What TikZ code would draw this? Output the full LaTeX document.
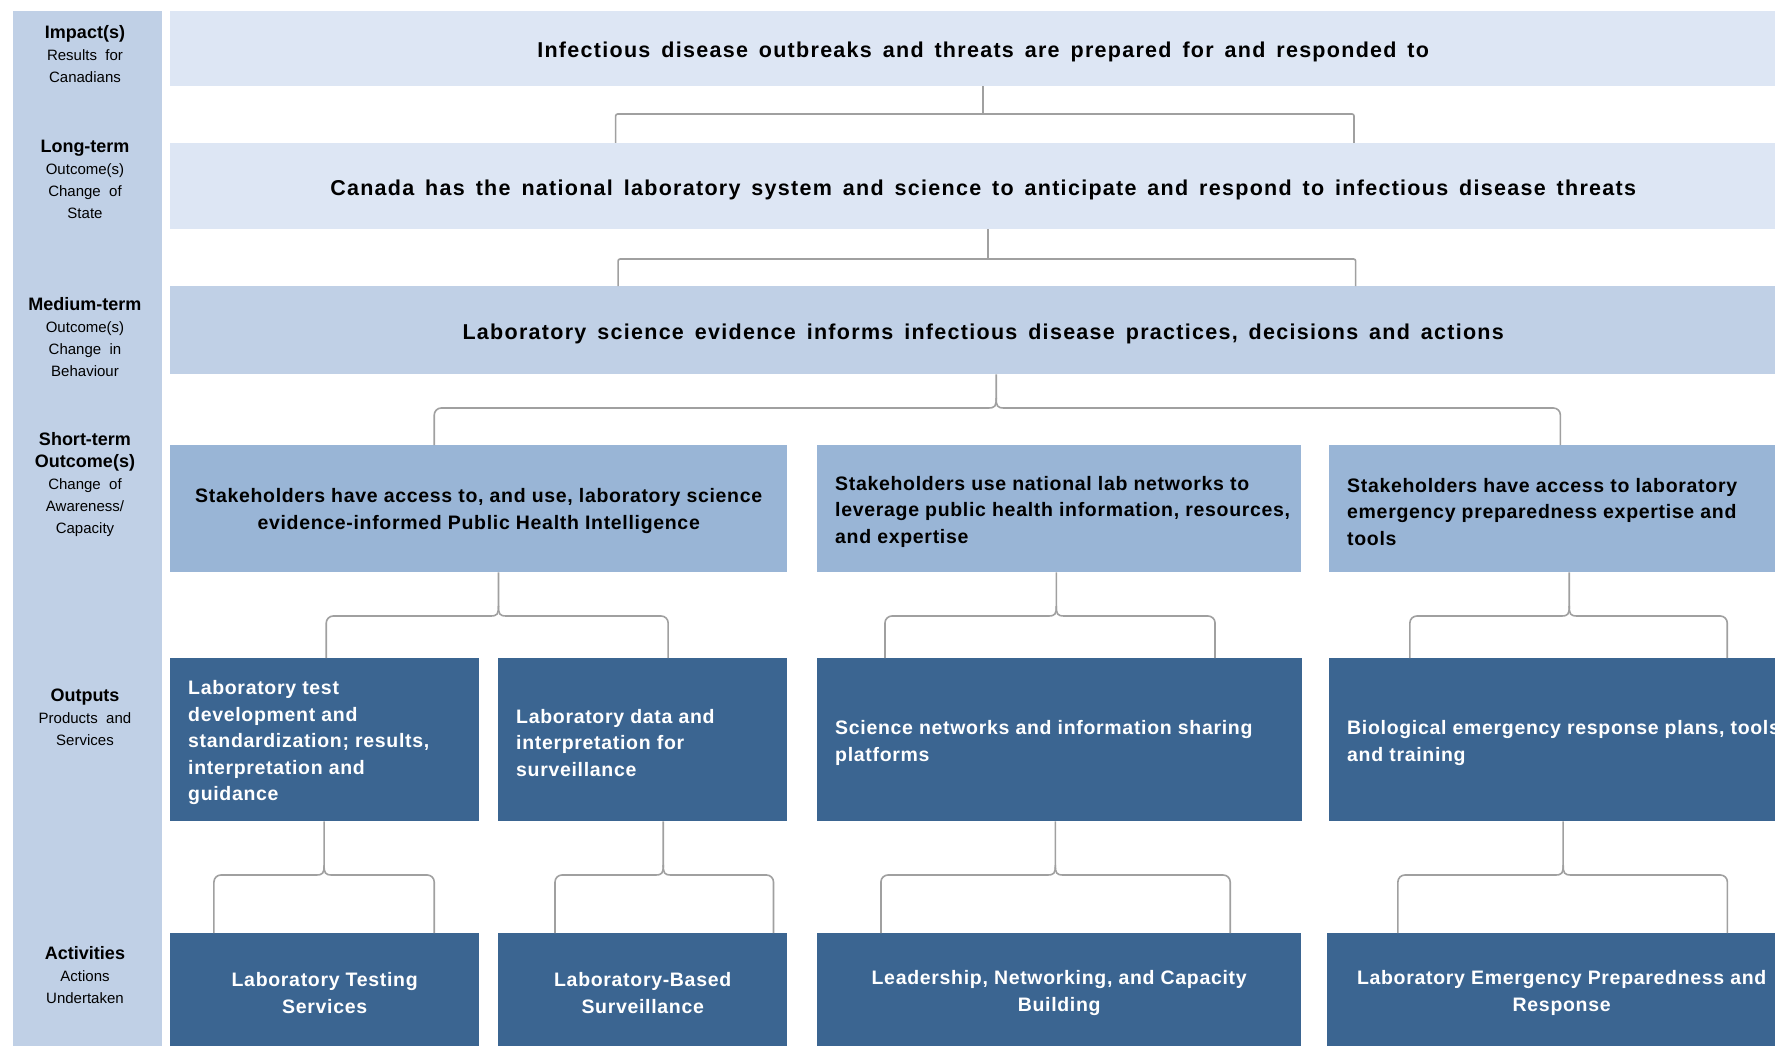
\documentclass[tikz,border=0pt]{standalone}
\usepackage{fontspec}
\setmainfont{Liberation Sans}
\newfontfamily\wideface[LetterSpace=6,WordSpace=1.5]{Liberation Sans}
\newfontfamily\midface[LetterSpace=3.5]{Liberation Sans}
\usetikzlibrary{calc}

\definecolor{bandblue}{RGB}{192,208,230}
\definecolor{paleblue}{RGB}{221,230,244}
\definecolor{midblue}{RGB}{192,208,230}
\definecolor{skyblue}{RGB}{153,181,214}
\definecolor{navyblue}{RGB}{59,101,145}
\definecolor{linkgray}{RGB}{160,160,160}

\newcommand\ttl[1]{{\bfseries\fontsize{18}{22}\selectfont #1}}

% straight T-shaped fork: stem, bar height, left foot, right foot
\newcommand\plainfork[4]{%
  \coordinate (bm) at (#1 |- 0,#2);
  \draw[link] (#1) -- (bm);
  \draw[link,rounded corners=2pt] (#3) |- (bm) -| (#4);
}
% curly-brace fork with a cusp under the stem
\newcommand\curlyfork[4]{%
  \coordinate (bm) at (#1 |- 0,#2);
  \draw[link] (#1) -- ([yshift=10pt]bm)
     .. controls ([yshift=2pt]bm) and ([xshift=-1pt]bm) .. ([xshift=-8pt]bm)
     [rounded corners=7pt] -| (#3);
  \draw[link] ([yshift=10pt]bm)
     .. controls ([yshift=2pt]bm) and ([xshift=1pt]bm) .. ([xshift=8pt]bm)
     [rounded corners=7pt] -| (#4);
}

\begin{document}
\begin{tikzpicture}[x=1pt,y=-1pt,
  box/.style={rectangle,anchor=north west,inner sep=0pt,draw=none},
  tierpale/.style={box,fill=paleblue,align=center,text height=18pt,text depth=0pt,
     font=\wideface\bfseries\fontsize{21.5}{26}\selectfont},
  tiermid/.style={box,fill=midblue,align=center,text height=18pt,text depth=0pt,
     font=\wideface\bfseries\fontsize{21.5}{26}\selectfont},
  shortbox/.style={box,fill=skyblue},
  darkbox/.style={box,fill=navyblue,align=center,text=white,
     font=\midface\bfseries\fontsize{19.5}{26.6}\selectfont},
  boxtext/.style={inner sep=0pt,yshift=-3pt,
     font=\midface\bfseries\fontsize{19.5}{26.6}\selectfont},
  lefttext/.style={boxtext,anchor=west,align=left},
  lbl/.style={align=center,inner sep=0pt,font=\fontsize{15}{22}\selectfont},
  link/.style={draw=linkgray,line width=1.6pt}]

\clip (0,0) rectangle (1775,1046);
\fill[white] (0,0) rectangle (1775,1046);

% level band on the left
\node[box,fill=bandblue,minimum width=149pt,minimum height=1040pt] (band) at (13,11) {};
\node[lbl] (limp) at (85,54) {\ttl{Impact(s)}\\Results\ \ for\\Canadians};
\node[lbl] (llong) at (85,179) {\ttl{Long-term}\\Outcome(s)\\Change\ \ of\\State};
\node[lbl] (lmed) at (85,337) {\ttl{Medium-term}\\Outcome(s)\\Change\ \ in\\Behaviour};
\node[lbl] (lshort) at (85,485) {\ttl{Short-term}\\\ttl{Outcome(s)}\\Change\ \ of\\Awareness/\\Capacity};
\node[lbl] (lout) at (85,717) {\ttl{Outputs}\\Products\ \ and\\Services};
\node[lbl] (lact) at (85,975) {\ttl{Activities}\\Actions\\Undertaken};

% outcome tiers
\node[tierpale,minimum width=1626pt,minimum height=75pt] (imp) at (170,11)
  {Infectious disease outbreaks and threats are prepared for and responded to};
\node[tierpale,minimum width=1626pt,minimum height=86pt] (lt) at (170,143)
  {Canada has the national laboratory system and science to anticipate and respond to infectious disease threats};
\node[tiermid,minimum width=1626pt,minimum height=88pt] (mt) at (170,286)
  {Laboratory science evidence informs infectious disease practices, decisions and actions};

% short-term outcomes
\node[shortbox,minimum width=617pt,minimum height=127pt] (s1) at (170,445) {};
\node[shortbox,minimum width=484pt,minimum height=127pt] (s2) at (817,445) {};
\node[shortbox,minimum width=467pt,minimum height=127pt] (s3) at (1329,445) {};
\node[boxtext,align=center,yshift=1pt] (s1t) at (s1.center)
  {Stakeholders have access to, and use, laboratory science\\evidence-informed Public Health Intelligence};
\node[lefttext] (s2t) at ([xshift=18pt]s2.west)
  {Stakeholders use national lab networks to\\leverage public health information, resources,\\and expertise};
\node[lefttext] (s3t) at ([xshift=18pt]s3.west)
  {Stakeholders have access to laboratory\\emergency preparedness expertise and\\tools};

% outputs
\node[darkbox,minimum width=309pt,minimum height=163pt] (o1) at (170,658) {};
\node[darkbox,minimum width=289pt,minimum height=163pt] (o2) at (498,658) {};
\node[darkbox,minimum width=485pt,minimum height=163pt] (o3) at (817,658) {};
\node[darkbox,minimum width=467pt,minimum height=163pt] (o4) at (1329,658) {};
\node[lefttext,text=white] (o1t) at ([xshift=18pt]o1.west)
  {Laboratory test\\development and\\standardization; results,\\interpretation and\\guidance};
\node[lefttext,text=white] (o2t) at ([xshift=18pt]o2.west)
  {Laboratory data and\\interpretation for\\surveillance};
\node[lefttext,text=white] (o3t) at ([xshift=18pt]o3.west)
  {Science networks and information sharing\\platforms};
\node[lefttext,text=white] (o4t) at ([xshift=18pt]o4.west)
  {Biological emergency response plans, tools\\and training};

% activities
\node[darkbox,minimum width=309pt,minimum height=120pt] (a1) at (170,933)
  {Laboratory Testing\\Services};
\node[darkbox,minimum width=289pt,minimum height=120pt] (a2) at (498,933)
  {Laboratory-Based\\Surveillance};
\node[darkbox,minimum width=484pt,minimum height=120pt] (a3) at (817,933)
  {Leadership, Networking, and Capacity\\Building};
\node[darkbox,minimum width=469pt,minimum height=120pt] (a4) at (1327,933)
  {Laboratory Emergency Preparedness and\\Response};

% impact <- long-term
\coordinate (f1l) at ($(lt.north west)!0.274!(lt.north east)$);
\coordinate (f1r) at ($(lt.north west)!0.728!(lt.north east)$);
\plainfork{imp.south}{114}{f1l}{f1r}

% long-term <- medium-term
\coordinate (f2t) at ($(lt.south)+(5,0)$);
\coordinate (f2l) at ($(mt.north west)!0.2755!(mt.north east)$);
\coordinate (f2r) at ($(mt.north west)!0.729!(mt.north east)$);
\plainfork{f2t}{259}{f2l}{f2r}

% medium-term <- short-term
\coordinate (f3t) at ($(mt.south)+(13,0)$);
\coordinate (f3l) at ($(s1.north west)!0.428!(s1.north east)$);
\coordinate (f3r) at ($(s3.north west)!0.495!(s3.north east)$);
\curlyfork{f3t}{408}{f3l}{f3r}

% short-term <- outputs
\coordinate (f4t) at ($(s1.south west)!0.532!(s1.south east)$);
\coordinate (f4l) at ($(o1.north west)!0.505!(o1.north east)$);
\coordinate (f4r) at ($(o2.north west)!0.588!(o2.north east)$);
\curlyfork{f4t}{616}{f4l}{f4r}

\coordinate (f5t) at ($(s2.south west)!0.494!(s2.south east)$);
\coordinate (f5l) at ($(o3.north west)!0.14!(o3.north east)$);
\coordinate (f5r) at ($(o3.north west)!0.82!(o3.north east)$);
\curlyfork{f5t}{616}{f5l}{f5r}

\coordinate (f6t) at ($(s3.south west)!0.514!(s3.south east)$);
\coordinate (f6l) at ($(o4.north west)!0.173!(o4.north east)$);
\coordinate (f6r) at ($(o4.north west)!0.852!(o4.north east)$);
\curlyfork{f6t}{616}{f6l}{f6r}

% outputs <- activities
\coordinate (f7t) at ($(o1.south west)!0.498!(o1.south east)$);
\coordinate (f7l) at ($(a1.north west)!0.142!(a1.north east)$);
\coordinate (f7r) at ($(a1.north west)!0.854!(a1.north east)$);
\curlyfork{f7t}{875}{f7l}{f7r}

\coordinate (f8t) at ($(o2.south west)!0.571!(o2.south east)$);
\coordinate (f8l) at ($(a2.north west)!0.197!(a2.north east)$);
\coordinate (f8r) at ($(a2.north west)!0.952!(a2.north east)$);
\curlyfork{f8t}{875}{f8l}{f8r}

\coordinate (f9t) at ($(o3.south west)!0.491!(o3.south east)$);
\coordinate (f9l) at ($(a3.north west)!0.132!(a3.north east)$);
\coordinate (f9r) at ($(a3.north west)!0.853!(a3.north east)$);
\curlyfork{f9t}{875}{f9l}{f9r}

\coordinate (f10t) at ($(o4.south west)!0.501!(o4.south east)$);
\coordinate (f10l) at ($(a4.north west)!0.151!(a4.north east)$);
\coordinate (f10r) at ($(a4.north west)!0.853!(a4.north east)$);
\curlyfork{f10t}{875}{f10l}{f10r}

\end{tikzpicture}
\end{document}
